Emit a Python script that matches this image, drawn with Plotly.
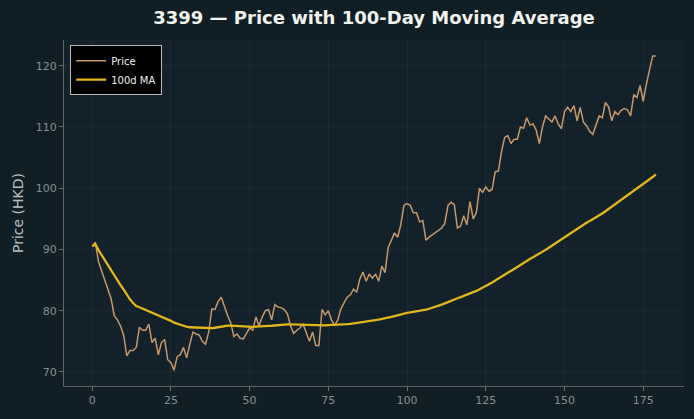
import pandas as pd
import plotly.graph_objects as go

days = list(range(180))
price = [
    90.5, 91.2, 88.0, 86.5, 85.0, 83.5, 82.0, 79.2, 78.5, 77.5,
    76.0, 72.6, 73.5, 73.5, 74.0, 77.3, 76.8, 76.8, 77.8, 74.8,
    75.5, 72.8, 74.8, 75.3, 72.0, 71.5, 70.3, 72.5, 72.8, 74.0,
    72.3, 74.5, 76.5, 76.2, 76.0, 75.0, 74.5, 76.5, 80.3, 80.2,
    81.5, 82.2, 80.5, 79.2, 78.0, 75.8, 76.2, 75.5, 75.4, 76.2,
    77.2, 76.8, 79.0, 77.5, 79.0, 80.0, 80.2, 78.5, 81.0, 80.6,
    80.5, 80.2, 79.5, 77.5, 76.3, 76.8, 77.2, 77.8, 76.5, 75.0,
    76.5, 74.3, 74.3, 80.2, 79.3, 80.0, 78.5, 77.6, 78.5, 80.3,
    81.3, 82.2, 82.6, 83.5, 83.0, 85.2, 86.3, 84.8, 86.0, 85.3,
    86.0, 84.8, 87.3, 86.2, 90.3, 91.5, 92.7, 92.0, 94.0, 97.2,
    97.5, 97.2, 96.0, 96.0, 94.5, 94.7, 91.5, 92.0, 92.4, 92.8,
    93.2, 93.5, 94.3, 97.2, 97.7, 97.3, 93.5, 93.8, 95.5, 94.0,
    97.8, 95.0, 96.0, 100.0, 99.3, 100.2, 99.5, 99.8, 102.7, 102.8,
    106.0, 108.3, 108.6, 107.3, 108.0, 108.0, 110.0, 109.8, 111.5, 110.3,
    110.5, 109.5, 107.3, 110.0, 111.8, 111.3, 110.8, 111.8, 110.5, 109.7,
    112.5, 113.2, 112.5, 113.5, 111.0, 113.2, 110.8, 110.2, 109.3, 108.8,
    110.5, 111.8, 111.5, 114.0, 113.3, 111.0, 112.5, 112.0, 112.7, 113.0,
    112.8, 111.8, 115.3, 114.8, 116.8, 114.2, 117.0, 119.5, 121.6, 121.6,
]
ma_window = 100
ma = pd.Series(price).rolling(ma_window, min_periods=1).mean().tolist()

x_ticks = [0, 25, 50, 75, 100, 125, 150, 175]
y_ticks = [70, 80, 90, 100, 110, 120]

fig = go.Figure()
fig.add_trace(go.Scatter(x=days, y=price, mode="lines", name="Price",
                         line=dict(color="#c6986b", width=1.5)))
fig.add_trace(go.Scatter(x=days, y=ma, mode="lines", name="100d MA",
                         line=dict(color="#e3b71c", width=2.3)))

axis_common = dict(showgrid=True, gridcolor="rgba(255,255,255,0.045)", gridwidth=1,
                   zeroline=False, showline=True, linecolor="#5f6465", linewidth=1,
                   ticks="outside", ticklen=4, tickcolor="#6a6f70",
                   tickfont=dict(family="DejaVu Sans", size=11, color="#878f93"))

fig.update_layout(
    width=694, height=419,
    paper_bgcolor="#0f1f25",
    plot_bgcolor="#12212a",
    margin=dict(l=64, r=10, t=40, b=33),
    title=dict(text="<b>3399 — Price with 100-Day Moving Average</b>",
               xref="paper", x=0.5, xanchor="center", y=0.957, yanchor="middle",
               font=dict(family="DejaVu Sans", size=18, color="#f2f2ee")),
    xaxis=dict(range=[-8.95, 187.95], tickvals=x_ticks, **axis_common),
    yaxis=dict(range=[67.7, 124.2], tickvals=y_ticks,
               title=dict(text="Price (HKD)", standoff=8,
                          font=dict(family="DejaVu Sans", size=14, color="#b9bfc1")),
               **axis_common),
    legend=dict(x=0.01, y=0.985, xanchor="left", yanchor="top",
                bgcolor="#000000", bordercolor="#b8b8b8", borderwidth=1,
                font=dict(family="DejaVu Sans", size=10, color="#f0f0f0"),
                tracegroupgap=0, itemwidth=30),
    showlegend=True,
)

fig.write_html("out.html")
